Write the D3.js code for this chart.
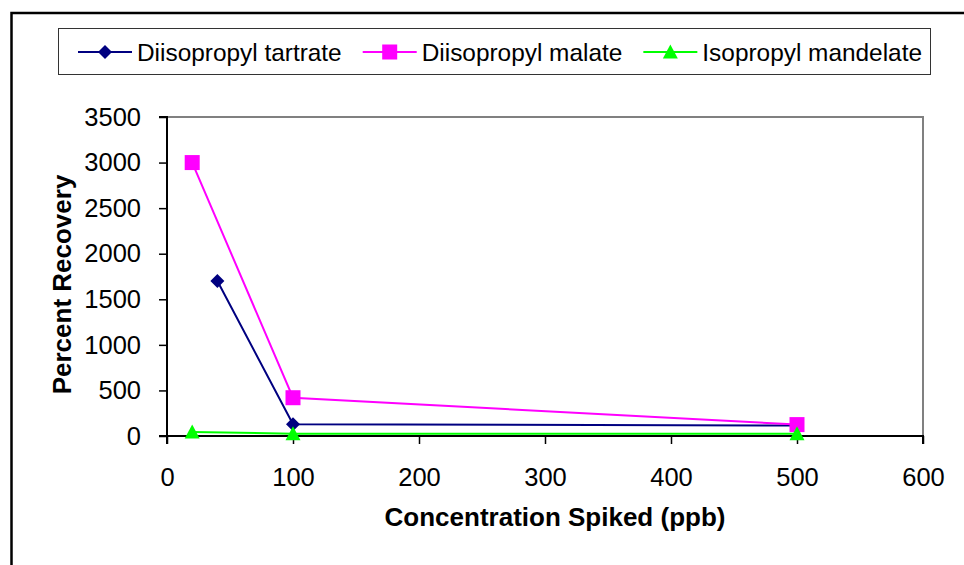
<!DOCTYPE html>
<html>
<head>
<meta charset="utf-8">
<script src="https://cdn.jsdelivr.net/npm/d3@7"></script>
<style>
  html, body { margin: 0; padding: 0; background: #fff; }
  svg { display: block; font-family: "Liberation Sans", Arial, sans-serif; }
</style>
</head>
<body>
<svg id="chart" width="964" height="565"></svg>
<script>
// ---- data ----
const seriesNames = ["Diisopropyl tartrate", "Diisopropyl malate", "Isopropyl mandelate"];
const tartrateX = [40, 100, 500];
const tartrateY = [1700, 130, 115];
const malateX = [20, 100, 500];
const malateY = [3000, 420, 125];
const mandelateX = [20, 100, 500];
const mandelateY = [45, 25, 25];
const xTicks = [0, 100, 200, 300, 400, 500, 600];
const yTicks = [0, 500, 1000, 1500, 2000, 2500, 3000, 3500];
const xTitle = "Concentration Spiked (ppb)";
const yTitle = "Percent Recovery";

const colors = ["#000080", "#FF00FF", "#00FF00"];
const shapes = ["diamond", "square", "triangle"];

const series = [
  { name: seriesNames[0], xs: tartrateX, ys: tartrateY },
  { name: seriesNames[1], xs: malateX, ys: malateY },
  { name: seriesNames[2], xs: mandelateX, ys: mandelateY }
].map((s, i) => ({ ...s, color: colors[i], shape: shapes[i],
  pts: s.xs.map((x, j) => ({ x, y: s.ys[j] })) }));

const svg = d3.select("#chart");

// outer frame (extends past the right & bottom edges)
svg.append("rect").attr("x", 11.5).attr("y", 13).attr("width", 1000).attr("height", 600)
  .attr("fill", "none").attr("stroke", "#000").attr("stroke-width", 2.5);

const x = d3.scaleLinear().domain([0, 600]).range([167, 923]);
const y = d3.scaleLinear().domain([0, 3500]).range([436, 117]);

// plot area border (top/right grey)
svg.append("path")
  .attr("d", `M${x(0)},${y(3500)}H${x(600)}V${y(0)}`)
  .attr("fill", "none").attr("stroke", "#808080").attr("stroke-width", 2);

// axes
const xAxis = svg.append("g").attr("transform", `translate(0,${y(0)})`)
  .call(d3.axisBottom(x).tickValues(xTicks).tickSize(8).tickPadding(24).tickFormat(d3.format("d")));
const yAxis = svg.append("g").attr("transform", `translate(${x(0)},0)`)
  .call(d3.axisLeft(y).tickValues(yTicks).tickSize(8).tickPadding(18).tickFormat(d3.format("d")));
[xAxis, yAxis].forEach(g => {
  g.select(".domain").attr("stroke", "#000").attr("stroke-width", 2);
  g.selectAll(".tick line").attr("stroke", "#000").attr("stroke-width", 1.5);
  g.selectAll(".tick text").attr("fill", "#000").style("font-size", "25.5px")
    .style("font-family", '"Liberation Sans", Arial, sans-serif');
});
yAxis.select(".domain").attr("d", `M-8,${y(3500)}H0V${y(0)}H-8`);
xAxis.select(".domain").attr("d", `M${x(0)},8V0H${x(600)}V8`);
xAxis.selectAll(".tick text").attr("dy", "0.71em");

// titles
svg.append("text").attr("x", 555).attr("y", 526).attr("text-anchor", "middle")
  .style("font-size", "26px").style("font-weight", "bold").text(xTitle);
svg.append("text").attr("transform", `translate(71,${(y(0) + y(3500)) / 2 + 8}) rotate(-90)`)
  .attr("text-anchor", "middle")
  .style("font-size", "26px").style("font-weight", "bold").text(yTitle);

// marker generator
function marker(g, shape, color) {
  if (shape === "diamond") {
    g.append("path").attr("d", "M0,-7L7,0L0,7L-7,0Z").attr("fill", color);
  } else if (shape === "square") {
    g.append("rect").attr("x", -7.5).attr("y", -7.5).attr("width", 15).attr("height", 15).attr("fill", color);
  } else {
    g.append("path").attr("d", "M0,-7.5L7.5,6.5L-7.5,6.5Z").attr("fill", color);
  }
}

// lines & markers
const line = d3.line().x(d => x(d.x)).y(d => y(d.y));
series.forEach(s => {
  svg.append("path").datum(s.pts).attr("d", line)
    .attr("fill", "none").attr("stroke", s.color).attr("stroke-width", 2);
});
series.forEach(s => {
  s.pts.forEach(p => {
    const g = svg.append("g").attr("transform", `translate(${x(p.x)},${y(p.y)})`);
    marker(g, s.shape, s.color);
  });
});

// legend
const legend = svg.append("g");
legend.append("rect").attr("x", 58.5).attr("y", 28.5).attr("width", 872).attr("height", 46)
  .attr("fill", "#fff").attr("stroke", "#333").attr("stroke-width", 1);
let lx = 78;
const ly = 52;
series.forEach((s, i) => {
  const g = legend.append("g");
  g.append("line").attr("x1", lx).attr("x2", lx + 54).attr("y1", ly).attr("y2", ly)
    .attr("stroke", s.color).attr("stroke-width", 2);
  const mg = g.append("g").attr("transform", `translate(${lx + 27},${ly})`);
  marker(mg, s.shape, s.color);
  const t = g.append("text").attr("x", lx + 59).attr("y", 60.5)
    .style("font-size", "24.4px").attr("fill", "#000").text(s.name);
  lx = lx + 59 + t.node().getComputedTextLength() + 21;
});
</script>
</body>
</html>
